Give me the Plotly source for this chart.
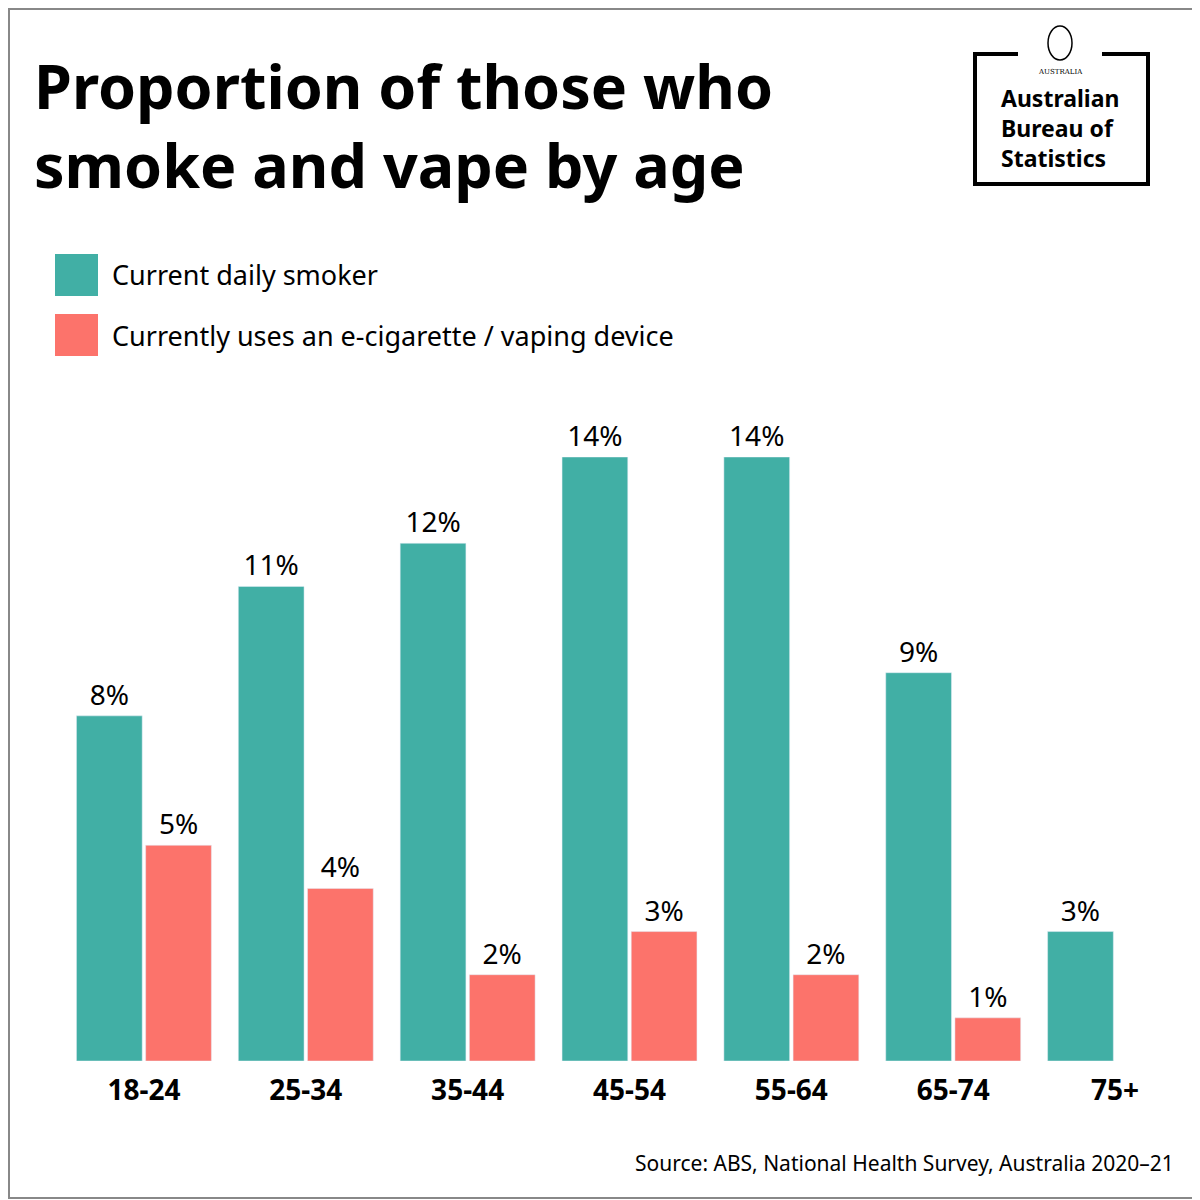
import plotly.graph_objects as go

ages = ["18-24", "25-34", "35-44", "45-54", "55-64", "65-74", "75+"]
smoker = [8, 11, 12, 14, 14, 9, 3]
vaper = [5, 4, 2, 3, 2, 1, None]

TEAL = "#41afa5"
CORAL = "#fc736b"
FONT = "Noto Sans"

# the page puts the figure 8px in from the corner; work in page pixels
OFF = 8
L, R, T, B = 63 - OFF, 1196 - OFF, 457 - OFF, 1061 - OFF


def px(X, Y):
    return (X - OFF - L) / (R - L), (B - (Y - OFF)) / (B - T)


fig = go.Figure()
fig.add_trace(go.Bar(x=ages, y=smoker, name="Current daily smoker", marker_color=TEAL,
                     texttemplate="%{y}%", textposition="outside", cliponaxis=False,
                     textfont=dict(size=28, color="black", family=FONT)))
fig.add_trace(go.Bar(x=ages, y=vaper, name="Currently uses an e-cigarette / vaping device",
                     marker_color=CORAL, texttemplate="%{y}%", textposition="outside",
                     cliponaxis=False, textfont=dict(size=28, color="black", family=FONT)))

fig.update_layout(
    width=1200, height=1200, paper_bgcolor="white", plot_bgcolor="white",
    margin=dict(l=L, r=1200 - R, t=T, b=1200 - B, autoexpand=False),
    barmode="group", bargap=0.145, bargroupgap=0.05, showlegend=False,
    font=dict(family=FONT, color="black"),
    xaxis=dict(showline=False, ticks="", tickfont=dict(size=28, family=FONT, weight="bold"),
               ticklabelstandoff=10),
    yaxis=dict(visible=False, range=[0, 14]),
)

ann = []
x0, y0 = px(32, 42)
ann.append(dict(x=x0, y=y0, text="<b>Proportion of those who<br>smoke and vape by age</b>",
                xanchor="left", yanchor="top", align="left", font=dict(size=61, family=FONT)))
for i, (lab, col) in enumerate([("Current daily smoker", TEAL),
                                ("Currently uses an e-cigarette / vaping device", CORAL)]):
    yc = 275 + i * 60
    a0, b0 = px(55, yc - 21)
    a1, b1 = px(98, yc + 21)
    fig.add_shape(type="rect", xref="paper", yref="paper", x0=a0, x1=a1, y0=b0, y1=b1,
                  fillcolor=col, line_width=0)
    ax, ay = px(110, yc)
    ann.append(dict(x=ax, y=ay, text=lab, xanchor="left", yanchor="middle",
                    font=dict(size=27, family=FONT)))
ax, ay = px(1176, 1163)
ann.append(dict(x=ax, y=ay, text="Source: ABS, National Health Survey, Australia 2020\u201321",
                xanchor="right", yanchor="middle", font=dict(size=21, family=FONT)))
ax, ay = px(1060, 128)
ann.append(dict(x=ax, y=ay, text="<b>Australian<br>Bureau of<br>Statistics</b>", xanchor="center",
                yanchor="middle", align="left", font=dict(size=23, family=FONT)))
ax, ay = px(1060, 72)
ann.append(dict(x=ax, y=ay, text="AUSTRALIA", xanchor="center", yanchor="middle",
                font=dict(size=7, family="DejaVu Serif")))
for a in ann:
    fig.add_annotation(xref="paper", yref="paper", showarrow=False, **a)

# logo box
a0, b0 = px(975, 54)
a1, b1 = px(1148, 184)
fig.add_shape(type="rect", xref="paper", yref="paper", x0=a0, x1=a1, y0=b0, y1=b1,
              line=dict(color="black", width=4))
a0, b0 = px(1018, 50)
a1, b1 = px(1102, 80)
fig.add_shape(type="rect", xref="paper", yref="paper", x0=a0, x1=a1, y0=b0, y1=b1,
              fillcolor="white", line_width=0)
a0, b0 = px(1048, 26)
a1, b1 = px(1072, 60)
fig.add_shape(type="circle", xref="paper", yref="paper", x0=a0, x1=a1, y0=b0, y1=b1,
              line=dict(color="black", width=1.5))
# frame
a0, b0 = px(OFF + 1, OFF + 1)
a1, b1 = px(1198, 1198)
fig.add_shape(type="rect", xref="paper", yref="paper", x0=a0, x1=a1, y0=b0, y1=b1,
              line=dict(color="#888", width=2))

fig.write_html("out.html")
